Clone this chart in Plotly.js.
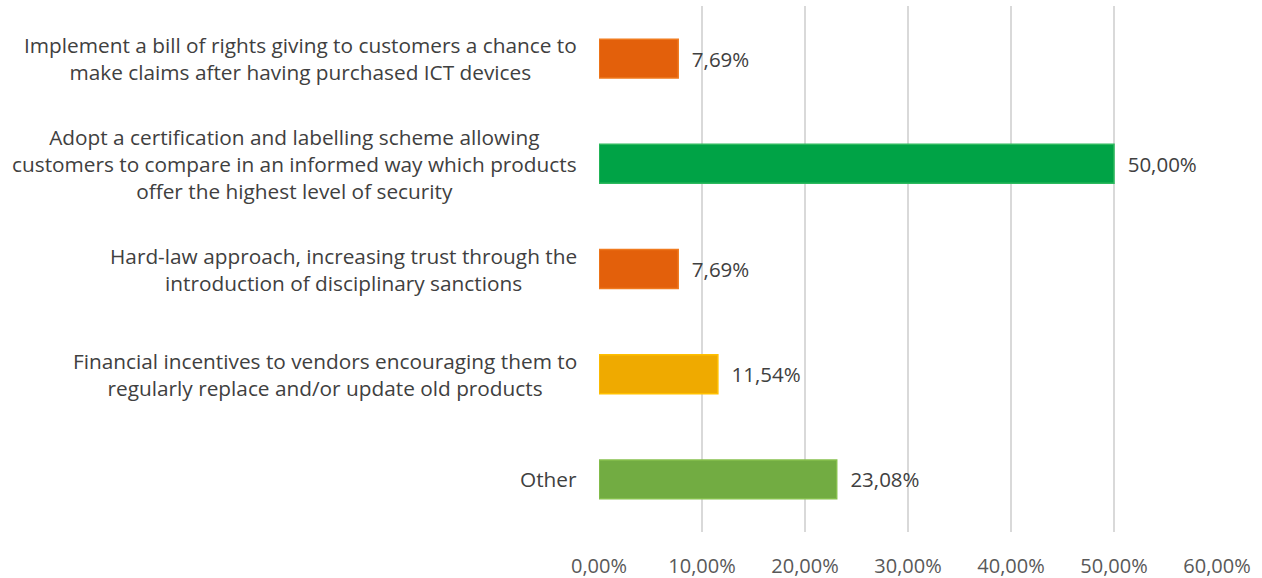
<!DOCTYPE html>
<html><head><meta charset="utf-8">
<script src="https://cdn.plot.ly/plotly-3.0.1.min.js"></script>
<style>html,body{margin:0;padding:0;background:#fff}#chart{width:1262px;height:578px}</style>
</head><body><div id="chart"></div>
<script>
const categories = [
  "Implement a bill of rights giving to customers a chance to<br>make claims after having purchased ICT devices",
  "Adopt a certification and labelling scheme allowing<br>customers to compare in an informed way which products<br>offer the highest level of security",
  "Hard-law approach, increasing trust through the<br>introduction of disciplinary sanctions",
  "Financial incentives to vendors encouraging them to<br>regularly replace and/or update old products",
  "Other"
];
const values = [0.0769, 0.5000, 0.0769, 0.1154, 0.2308];
const barColors = ["#E3600B", "#00A346", "#E3600B", "#EFAA00", "#72AC42"];
const lineColors = ["#F07A1E", "#2DB95E", "#F07A1E", "#FFC000", "#86C04E"];
const tickVals = [0, 0.1, 0.2, 0.3, 0.4, 0.5, 0.6];

const font = "'Open Sans', sans-serif";
const trace = {
  type: "bar", orientation: "h",
  x: values, y: categories.map((c,i)=>i),
  width: 0.37,
  marker: {color: barColors, line: {color: lineColors, width: 1.5}},
  text: values.map(v => "  " + (v*100).toFixed(2).replace(".", ",") + "%"),
  textposition: "outside",
  textfont: {family: font, size: 20.5, color: "#404040"},
  cliponaxis: false,
  hoverinfo: "none"
};
const annotations = categories.map((c,i)=>({
  xref: "paper", yref: "y", x: -0.033, y: i, xanchor: "right", yanchor: "middle",
  text: c, showarrow: false, align: "center",
  font: {family: font, size: 20.8, color: "#404040"}
}));
Plotly.newPlot("chart", [trace], {
  width: 1262, height: 578,
  margin: {l: 599, r: 45, t: 6, b: 46},
  separators: ",.",
  paper_bgcolor: "#fff", plot_bgcolor: "#fff",
  showlegend: false,
  bargap: 0.63,
  xaxis: {range: [0, 0.6], tickvals: tickVals, tickformat: ".2%",
    showgrid: true, gridcolor: "#D9D9D9", gridwidth: 1.5, zeroline: false,
    showline: false, ticks: "", ticklabelstandoff: 20,
    tickfont: {family: font, size: 20, color: "#595959"}},
  yaxis: {range: [4.5, -0.5], tickvals: [0,1,2,3,4], showticklabels: false,
    showgrid: false, zeroline: false, showline: false, ticks: ""},
  annotations: annotations
}, {staticPlot: true});
</script></body></html>
